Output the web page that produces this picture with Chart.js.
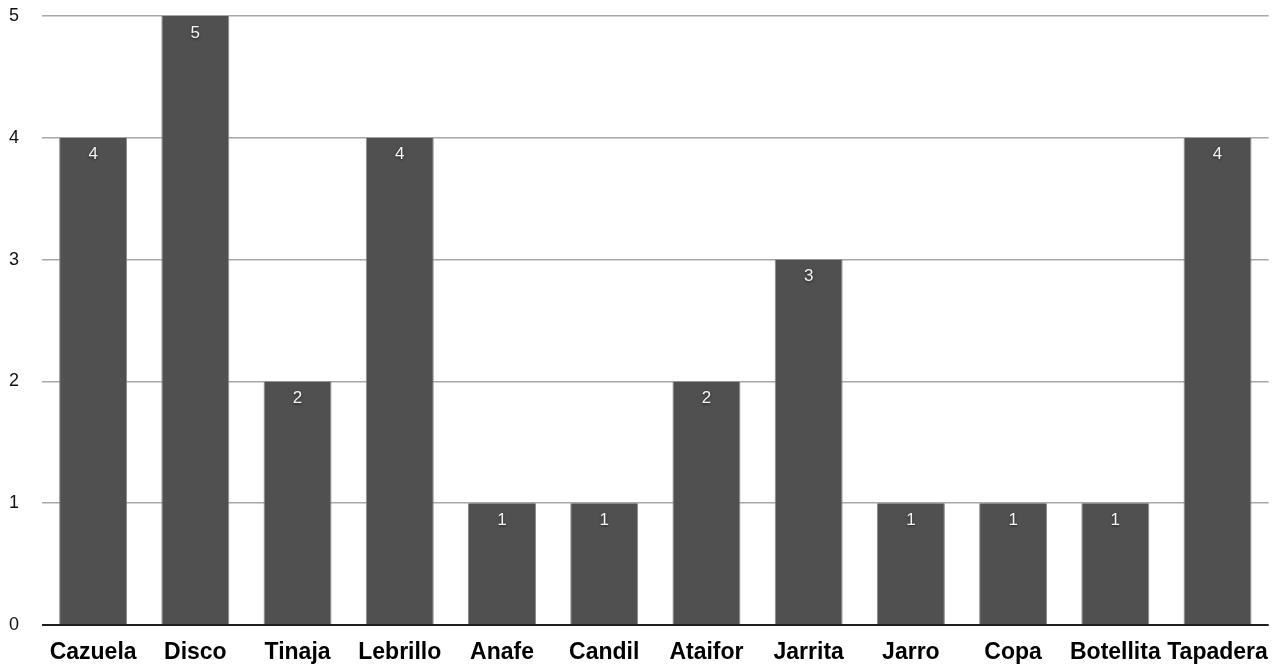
<!DOCTYPE html>
<html>
<head>
<meta charset="utf-8">
<script src="https://cdn.jsdelivr.net/npm/chart.js@4.4.1/dist/chart.umd.min.js"></script>
<style>
  html, body { margin: 0; padding: 0; background: #fff; overflow: hidden; }
  #wrap { width: 1274px; height: 664px; position: relative; }
</style>
</head>
<body>
<div id="wrap"><canvas id="c" width="1274" height="664"></canvas></div>
<script>
const categories = ['Cazuela', 'Disco', 'Tinaja', 'Lebrillo', 'Anafe', 'Candil', 'Ataifor', 'Jarrita', 'Jarro', 'Copa', 'Botellita', 'Tapadera'];
const counts = [4, 5, 2, 4, 1, 1, 2, 3, 1, 1, 1, 4];
const yTicks = [0, 1, 2, 3, 4, 5];

// Writes each bar's value just inside its top edge
const valueLabels = {
  id: 'valueLabels',
  afterDatasetsDraw(chart) {
    const ctx = chart.ctx;
    const meta = chart.getDatasetMeta(0);
    ctx.save();
    ctx.font = '17px "Liberation Sans", Arial, sans-serif';
    ctx.textAlign = 'center';
    ctx.textBaseline = 'middle';
    ctx.fillStyle = '#f4f4f4';
    ctx.shadowColor = 'rgba(0,0,0,0.6)';
    ctx.shadowBlur = 3;
    ctx.shadowOffsetY = 1;
    meta.data.forEach((bar, i) => {
      ctx.fillText(String(counts[i]), bar.x, bar.y + 17);
    });
    ctx.restore();
  }
};

new Chart(document.getElementById('c'), {
  type: 'bar',
  data: {
    labels: categories,
    datasets: [{
      data: counts,
      backgroundColor: '#505050',
      borderColor: '#8a8a8a',
      borderWidth: { top: 0, left: 1, right: 1, bottom: 0 },
      borderSkipped: false,
      categoryPercentage: 1,
      barPercentage: 0.665
    }]
  },
  options: {
    responsive: false,
    animation: false,
    devicePixelRatio: 1,
    layout: { padding: { top: 16, right: 4, left: 9, bottom: 0 } },
    plugins: { legend: { display: false }, tooltip: { enabled: false } },
    scales: {
      x: {
        grid: { display: false },
        border: { display: false },
        ticks: {
          color: '#000',
          font: { family: '"Liberation Sans", Arial, sans-serif', size: 23, weight: 'bold' },
          padding: 6,
          maxRotation: 0,
          autoSkip: false
        },
        afterFit(scale) { scale.height = 39; }
      },
      y: {
        min: 0,
        max: 5,
        afterBuildTicks(scale) { scale.ticks = yTicks.map(v => ({ value: v })); },
        grid: {
          drawTicks: false,
          color: ctx => ctx.tick && ctx.tick.value === 0 ? '#1e1e1e' : '#a8a8a8',
          lineWidth: ctx => ctx.tick && ctx.tick.value === 0 ? 2 : 1.5
        },
        border: { display: false },
        ticks: {
          color: '#111',
          font: { family: '"Liberation Sans", Arial, sans-serif', size: 18 },
          padding: 0,
          crossAlign: 'far'
        },
        afterFit(scale) { scale.width = 33; }
      }
    }
  },
  plugins: [valueLabels]
});
</script>
</body>
</html>
